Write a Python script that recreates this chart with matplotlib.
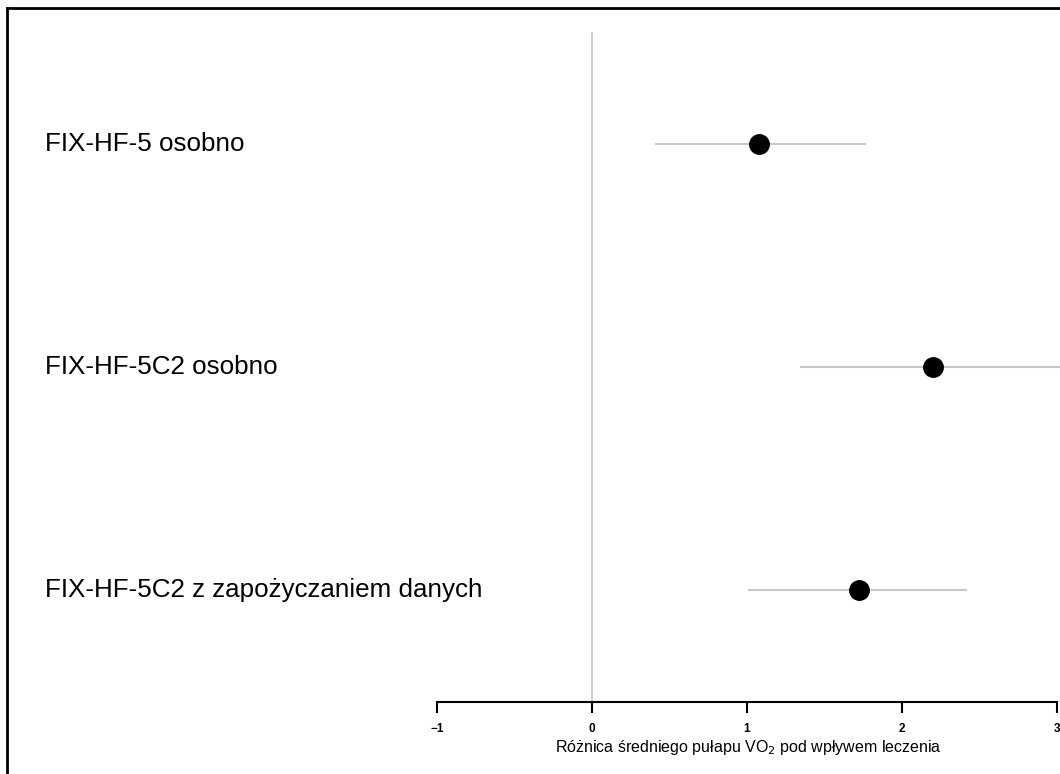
import matplotlib.pyplot as plt
from matplotlib.transforms import blended_transform_factory

plt.rcParams['font.family'] = ['Liberation Sans', 'DejaVu Sans']

labels = ["FIX-HF-5 osobno", "FIX-HF-5C2 osobno", "FIX-HF-5C2 z zapożyczaniem danych"]
means = [1.08, 2.20, 1.72]
lower = [0.41, 1.35, 1.01]
upper = [1.76, 3.20, 2.41]
ticks = [-1, 0, 1, 2, 3]

W, H = 1060, 774
fig = plt.figure(figsize=(W / 100, H / 100), dpi=100)
ax = fig.add_axes([437 / W, 1 - 702 / H, (W - 437) / W, (702 - 32) / H])

ypos = [3, 2, 1]
ax.axvline(0, color='#c8c8c8', lw=1.2, zorder=0)
for y, m, lo, hi in zip(ypos, means, lower, upper):
    ax.plot([lo, hi], [y, y], color='#c8c8c8', lw=1.5, zorder=1)
    ax.plot(m, y, 'o', color='black', ms=14, zorder=2)

ax.set_xlim(-1, 3 + 3 / 155)
ax.set_ylim(0.5, 3.5)
for s in ['top', 'right', 'left']:
    ax.spines[s].set_visible(False)
ax.spines['bottom'].set_bounds(-1, 3)
ax.spines['bottom'].set_linewidth(1.5)
ax.set_yticks([])
ax.set_xticks(ticks)
ax.set_xticklabels(['\u22121', '0', '1', '2', '3'], fontsize=8.5, fontweight='bold')
ax.tick_params(axis='x', length=8, width=1.5, pad=7)
ax.set_xlabel("Różnica średniego pułapu VO$_2$ pod wpływem leczenia", fontsize=11.5, labelpad=2)

trans = blended_transform_factory(fig.transFigure, ax.transData)
for y, lab in zip(ypos, labels):
    ax.text(45 / W, y, lab, transform=trans, fontsize=18.7, va='center', ha='left')

# frame around the page (left and top only visible)
fig.add_artist(plt.Line2D([7 / W, 7 / W], [0, 1 - 7.5 / H], color='black', lw=2, transform=fig.transFigure))
fig.add_artist(plt.Line2D([7 / W, 1], [1 - 7.5 / H, 1 - 7.5 / H], color='black', lw=2, transform=fig.transFigure))

fig.savefig('out.png', dpi=100)
